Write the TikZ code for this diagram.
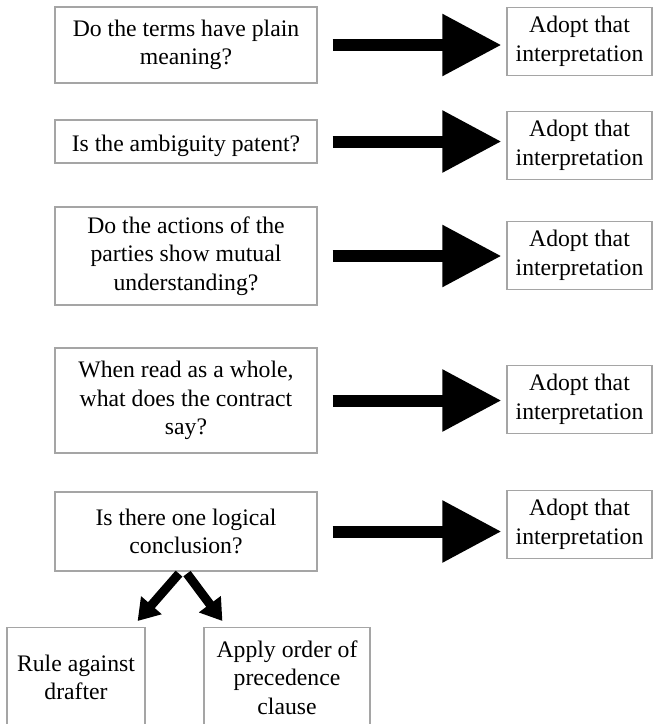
\documentclass[tikz,border=0pt]{standalone}
\usepackage{fontspec}
\setmainfont{Liberation Serif}
\usetikzlibrary{arrows.meta,calc}

\definecolor{boxgray}{RGB}{165,165,165}

\tikzstyle{flow_style}=[x=1pt,y=-1pt,
  font=\fontsize{23.7}{28.5}\selectfont,
  question/.style={rectangle,fill=white,draw=boxgray,line width=1.2pt,align=center,inner sep=0pt,minimum width=262pt,
    execute at begin node=\rule{0pt}{24.5pt}},
  answer/.style={rectangle,fill=white,draw=boxgray,line width=1.2pt,align=center,inner sep=0pt,minimum width=145pt,minimum height=68pt,
    execute at begin node=\rule{0pt}{23pt}},
  bigarrow/.style={line width=12pt,-{Triangle[length=59pt 0 1,width=59pt 0 1]},shorten <=15pt,shorten >=5pt},
  smallarrow/.style={line width=9pt,-{Triangle[length=21pt 0 1,width=26pt 0 1]}},]

\begin{document}
\begin{tikzpicture}[flow_style]

    \path[use as bounding box, clip] (0,0) rectangle (653,724);

    % Draw the question nodes
    \node[question, minimum height=76pt] (Q-1) at (186,45) {Do the terms have plain\\ meaning?};
    \node[question, minimum height=43pt] (Q-2) at (186,141.5) {Is the ambiguity patent?};
    \node[question, minimum height=98pt] (Q-3) at (186,256) {Do the actions of the\\ parties show mutual\\ understanding?};
    \node[question, minimum height=105pt] (Q-4) at (186,400.5) {When read as a whole,\\ what does the contract\\ say?};
    \node[question, minimum height=79pt] (Q-5) at (186,531.5) {Is there one logical\\ conclusion?};

    % Draw the answer nodes
    \foreach \name / \y in {1/41.5,2/145.5,3/255.5,4/399.5,5/524.5}
        \node[answer] (A-\name) at (579.5,\y) {Adopt that\\ interpretation};

    % Draw the two last resort nodes
    \node[answer, minimum width=138pt, minimum height=100pt, anchor=north] (R-1) at (76,627) {Rule against\\ drafter};
    \node[answer, minimum width=166pt, minimum height=100pt, anchor=north] (R-2) at (287,627) {Apply order of\\ precedence\\ clause};

    % Connect every question with its answer
    \foreach \source in {1,...,5}
        \draw[bigarrow] (Q-\source.east) -- (Q-\source.east -| A-\source.west);

    % Split the last question in two
    \draw[smallarrow] ($(Q-5.south)+(-7,2)$) -- ($(R-1.north east)+(-8,-6)$);
    \draw[smallarrow] ($(Q-5.south)+(1,2)$) -- ($(R-2.north west)+(19,-6)$);

\end{tikzpicture}
\end{document}
